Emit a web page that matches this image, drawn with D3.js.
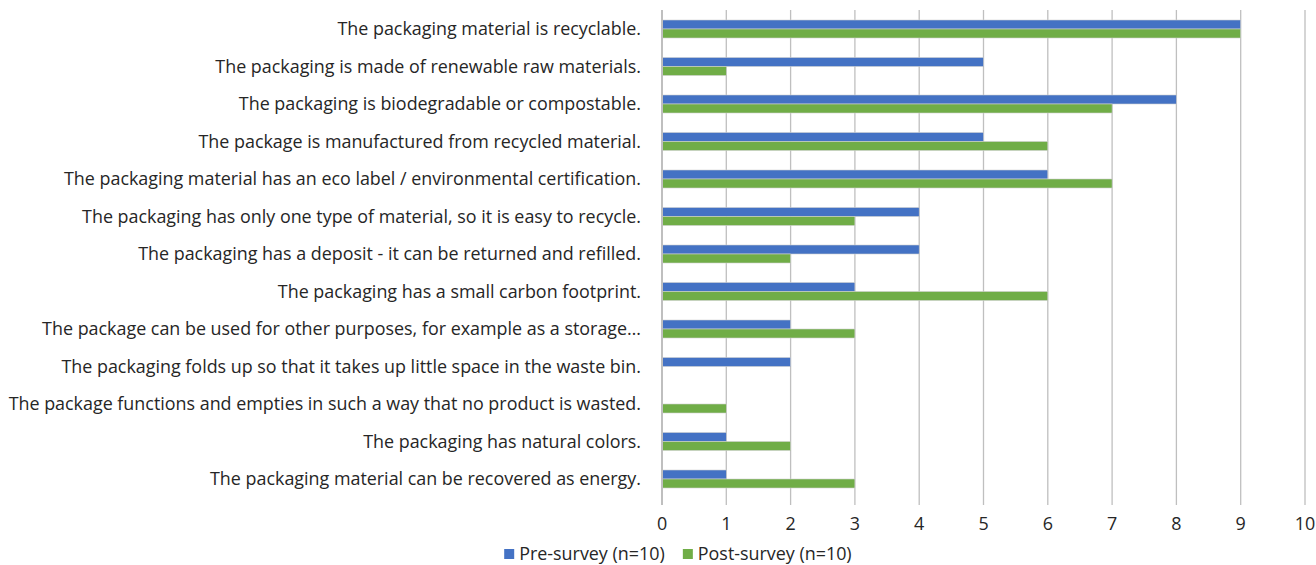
<!DOCTYPE html>
<html>
<head>
<meta charset="utf-8">
<script src="https://cdnjs.cloudflare.com/ajax/libs/d3/7.8.5/d3.min.js"></script>
<style>
  body { margin: 0; background: #fff; }
  svg { display: block; }
</style>
</head>
<body>
<script>
const categories = [
  "The packaging material is recyclable.",
  "The packaging is made of renewable raw materials.",
  "The packaging is biodegradable or compostable.",
  "The package is manufactured from recycled material.",
  "The packaging material has an eco label / environmental certification.",
  "The packaging has only one type of material, so it is easy to recycle.",
  "The packaging has a deposit - it can be returned and refilled.",
  "The packaging has a small carbon footprint.",
  "The package can be used for other purposes, for example as a storage\u2026",
  "The packaging folds up so that it takes up little space in the waste bin.",
  "The package functions and empties in such a way that no product is wasted.",
  "The packaging has natural colors.",
  "The packaging material can be recovered as energy."
];
const preSurvey  = [9, 5, 8, 5, 6, 4, 4, 3, 2, 2, 0, 1, 1];
const postSurvey = [9, 1, 7, 6, 7, 3, 2, 6, 3, 0, 1, 2, 3];
const seriesNames = ["Pre-survey (n=10)", "Post-survey (n=10)"];
const seriesColors = ["#4472C4", "#70AD47"];
const xTicks = [0, 1, 2, 3, 4, 5, 6, 7, 8, 9, 10];

const width = 1316, height = 565;
const textColor = "#262626";

const svg = d3.select("body").append("svg")
  .attr("width", width)
  .attr("height", height)
  .style("font-family", "'Open Sans', sans-serif")
  .style("font-size", "17.5px");

const x = d3.scaleLinear().domain([0, 10]).range([662, 1305]);
const y = d3.scaleBand().domain(categories).range([10.25, 497.75]);
const inner = d3.scaleBand().domain([0, 1]).range([0, 18]);

// gridlines
svg.append("g")
  .selectAll("line")
  .data(xTicks.slice(1))
  .join("line")
  .attr("x1", d => x(d)).attr("x2", d => x(d))
  .attr("y1", 10).attr("y2", 505)
  .attr("stroke", "#BFBFBF")
  .attr("stroke-width", 1.3);

// bars
const rows = categories.map((c, i) => ({ c, vals: [preSurvey[i], postSurvey[i]] }));
const g = svg.append("g").selectAll("g")
  .data(rows)
  .join("g")
  .attr("transform", d => `translate(0,${y(d.c) + y.bandwidth() / 2 - 9})`);

g.selectAll("rect")
  .data(d => d.vals.map((v, k) => ({ v, k })).filter(e => e.v > 0))
  .join("rect")
  .attr("x", x(0))
  .attr("y", d => inner(d.k))
  .attr("width", d => x(d.v) - x(0))
  .attr("height", inner.bandwidth())
  .attr("fill", d => seriesColors[d.k])
  .attr("stroke", "#D0D0D0")
  .attr("stroke-width", 0.6);

// zero axis line
svg.append("line")
  .attr("x1", x(0)).attr("x2", x(0))
  .attr("y1", 10).attr("y2", 505)
  .attr("stroke", "#BFBFBF")
  .attr("stroke-width", 2);

// category labels; squeezed horizontally so the longest is ~633px (Calibri-like)
const labels = svg.append("g").selectAll("text")
  .data(categories)
  .join("text")
  .attr("text-anchor", "end")
  .attr("dy", "0.35em")
  .attr("fill", textColor)
  .text(d => d);

let maxW = 0;
labels.each(function () { maxW = Math.max(maxW, this.getComputedTextLength()); });
const k = 633 / maxW;
labels.attr("transform", d => `translate(641,${y(d) + y.bandwidth() / 2}) scale(${k},1)`);

// x tick labels
svg.append("g").selectAll("text")
  .data(xTicks)
  .join("text")
  .attr("transform", d => `translate(${x(d)},524) scale(${k},1)`)
  .attr("dy", "0.35em")
  .attr("text-anchor", "middle")
  .attr("fill", textColor)
  .text(d => d);

// legend, centred under the chart around x=678
const legend = svg.append("g");
const items = seriesNames.map((name, i) => {
  const t = legend.append("text")
    .attr("dy", "0.35em")
    .attr("fill", textColor)
    .text(name);
  return { t, w: t.node().getComputedTextLength() * k, i };
});
const sq = 10, gapIn = 5, gapOut = 18;
const total = items.reduce((s, d) => s + sq + gapIn + d.w, 0) + gapOut;
let lx = 678 - total / 2;
items.forEach(d => {
  legend.append("rect")
    .attr("x", lx).attr("y", 549)
    .attr("width", sq).attr("height", sq)
    .attr("fill", seriesColors[d.i]);
  d.t.attr("transform", `translate(${lx + sq + gapIn},554) scale(${k},1)`);
  lx += sq + gapIn + d.w + gapOut;
});
</script>
</body>
</html>
